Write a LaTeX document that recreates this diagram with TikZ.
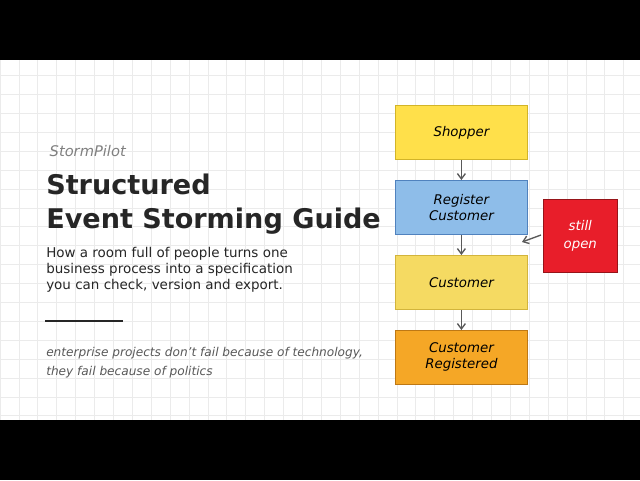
\documentclass[tikz,border=0pt]{standalone}
\usepackage{fontspec}
\setmainfont{DejaVu Sans}
\usetikzlibrary{arrows.meta}
\definecolor{yb}{RGB}{210,180,40}\definecolor{yf}{RGB}{255,224,74}
\definecolor{bb}{RGB}{80,130,190}\definecolor{bf}{RGB}{142,189,233}
\definecolor{cb}{RGB}{210,180,60}\definecolor{cf}{RGB}{245,218,98}
\definecolor{ob}{RGB}{190,120,20}\definecolor{of}{RGB}{245,167,38}
\definecolor{rb}{RGB}{150,20,25}\definecolor{rf}{RGB}{232,30,42}
\begin{document}
\begin{tikzpicture}[x=0.75pt,y=-0.75pt,
  card/.style={draw=#1,line width=0.6pt,minimum width=132*0.75pt,minimum height=54*0.75pt,anchor=north west,inner sep=0pt,font=\itshape\fontsize{10}{12}\selectfont,align=center},
  flow/.style={draw=black!65,line width=1pt,-{Straight Barb[length=4pt,width=6pt]}}]
\useasboundingbox (0,0) rectangle (640,480);
\fill[white] (0,60) rectangle (640,420);
\draw[black!8,line width=0.6pt] (0,60) grid[step=18.9*0.75pt] (640,420);
\fill[black] (0,0) rectangle (640,60);
\fill[black] (0,420) rectangle (640,480);
\node[anchor=west,text=black!50,font=\itshape\fontsize{11}{13}\selectfont] (brand) at (45,151) {StormPilot};
\node[anchor=north west,text=black!85,font=\bfseries\fontsize{20.3}{25.5}\selectfont,align=left,inner sep=0pt] (title) at (46,174) {Structured\\Event Storming Guide};
\node[anchor=north west,text=black!85,font=\fontsize{10.1}{12}\selectfont,align=left,inner sep=0pt] (body) at (46,247) {How a room full of people turns one\\business process into a specification\\you can check, version and export.};
\coordinate (l1) at (45,321); \coordinate (l2) at (123,321);
\draw[black!85,line width=1.5pt] (l1) -- (l2);
\node[anchor=north west,text=black!65,font=\itshape\fontsize{9.1}{14.5}\selectfont,align=left,inner sep=0pt] (quote) at (46,347) {enterprise projects don't fail because of technology,\\they fail because of politics};
\node[card=yb,fill=yf] (shop) at (395,105) {Shopper};
\node[card=bb,fill=bf] (reg) at (395,180) {Register\\Customer};
\node[card=cb,fill=cf] (cust) at (395,255) {Customer};
\node[card=ob,fill=of] (creg) at (395,330) {Customer\\Registered};
\node[draw=rb,fill=rf,text=white,minimum width=74*0.75pt,minimum height=73*0.75pt,anchor=north west,inner sep=0pt,align=center,font=\itshape\fontsize{10}{14}\selectfont] (open) at (543,199) {still\\open};
\draw[flow] (shop) -- (reg);
\draw[flow] (reg) -- (cust);
\draw[flow] (cust) -- (creg);
\coordinate (oa) at (541,235);
\coordinate (ob) at (522,242);
\draw[flow] (oa) -- (ob);
\end{tikzpicture}
\end{document}
